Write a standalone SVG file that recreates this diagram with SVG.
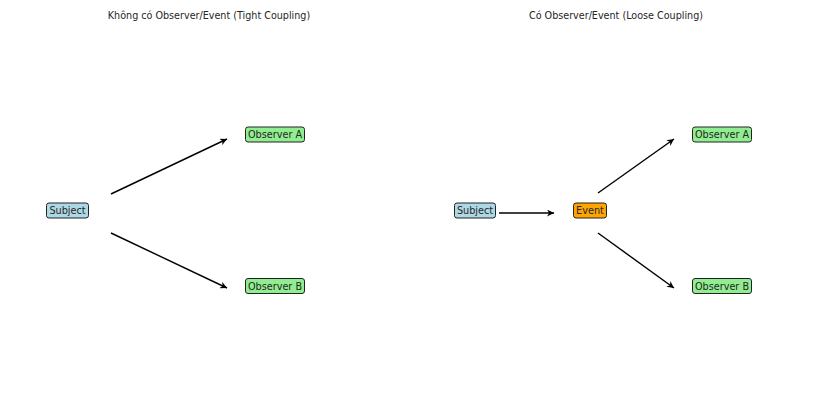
<svg xmlns="http://www.w3.org/2000/svg" width="825" height="413" viewBox="0 0 825 413">
<style>
text{font-family:"DejaVu Sans",sans-serif;font-size:9.7px;fill:#262626;}
.t{text-anchor:middle;}
.box{stroke:#222;stroke-width:1;}
.blue{fill:#add8e6}.green{fill:#90ee90}.orange{fill:#ffa500}
.edge{stroke:#000;stroke-width:1.4;fill:none;marker-end:url(#ah)}
</style>
<defs>
<marker id="ah" viewBox="0 0 10 10" refX="10" refY="5" markerWidth="7" markerHeight="7" markerUnits="userSpaceOnUse" orient="auto">
<path d="M0,0 L10,5 L0,10 L3,5 Z" fill="#000"/>
</marker>
</defs>
<rect width="825" height="413" fill="#fff"/>
<text class="t" x="209" y="19" style="font-size:9.6px">Không có Observer/Event (Tight Coupling)</text>
<text class="t" x="616" y="19" style="font-size:9.6px">Có Observer/Event (Loose Coupling)</text>
<g id="connectors">
<line class="edge" x1="111" y1="194" x2="227" y2="139"/>
<line class="edge" x1="111" y1="233" x2="227" y2="288"/>
<line class="edge" x1="499" y1="213" x2="554" y2="213"/>
<line class="edge" x1="598" y1="193" x2="674" y2="139"/>
<line class="edge" x1="598" y1="233" x2="674" y2="288"/>
</g>
<g id="left-subject"><rect class="box blue" x="46.5" y="203" width="42" height="15" rx="2.5"/><text class="t" x="67.5" y="214">Subject</text></g>
<g id="left-observer-a"><rect class="box green" x="245.5" y="127" width="59" height="15" rx="2.5"/><text class="t" x="275" y="138">Observer A</text></g>
<g id="left-observer-b"><rect class="box green" x="245.5" y="278.5" width="59" height="15" rx="2.5"/><text class="t" x="275" y="289.5">Observer B</text></g>
<g id="right-subject"><rect class="box blue" x="454.5" y="203" width="41" height="15" rx="2.5"/><text class="t" x="475" y="214">Subject</text></g>
<g id="right-event"><rect class="box orange" x="573.5" y="203" width="33" height="15" rx="2.5"/><text class="t" x="590" y="214">Event</text></g>
<g id="right-observer-a"><rect class="box green" x="692.5" y="127" width="59" height="15" rx="2.5"/><text class="t" x="722" y="138">Observer A</text></g>
<g id="right-observer-b"><rect class="box green" x="692.5" y="278.5" width="59" height="15" rx="2.5"/><text class="t" x="722" y="289.5">Observer B</text></g>
</svg>
